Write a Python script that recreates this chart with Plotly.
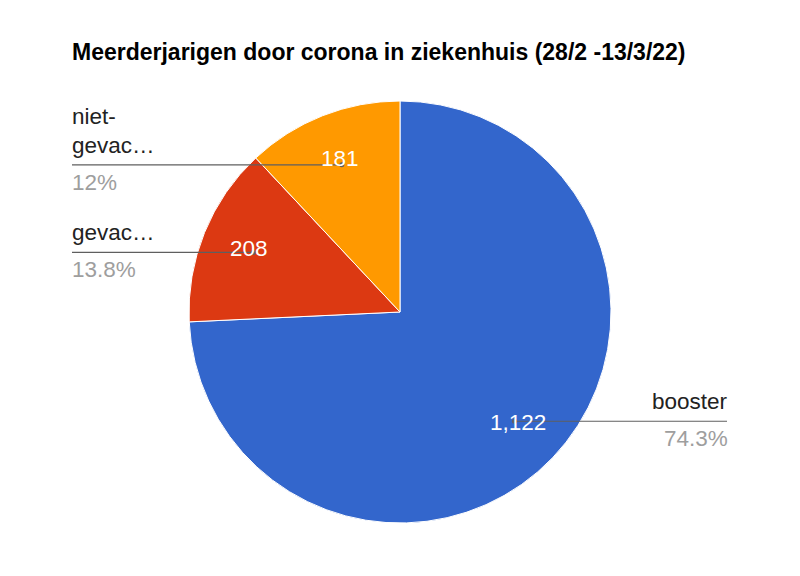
import math
import plotly.graph_objects as go

# data
categories = ["booster", "gevaccineerd", "niet-gevaccineerd"]
shown_names = ["booster", "gevac…", "niet-<br>gevac…"]
values = [1122, 208, 181]
colors = ["#3366CC", "#DC3912", "#FF9900"]

OFF = 8                     # the page body margin
W, H = 800 - OFF, 576 - OFF
CX, CY, R = 400, 312, 211   # pie centre and radius in window pixels
LEFT_X, RIGHT_X = 72, 727   # where the outside labels line up
FONT = "Arial, Liberation Sans, sans-serif"


def px(x):
    return (x - OFF) / W


def py(y):
    return 1 - (y - OFF) / H


def pct_text(v, total):
    s = "%.1f" % (100.0 * v / total)
    if s.endswith(".0"):
        s = s[:-2]
    return s + "%"


fig = go.Figure()
fig.add_trace(go.Pie(
    labels=categories,
    values=values,
    sort=False,
    direction="clockwise",
    rotation=0,
    marker=dict(colors=colors, line=dict(color="white", width=1)),
    textinfo="none",
    hoverinfo="label+value+percent",
    showlegend=False,
    domain=dict(x=[px(CX - R), px(CX + R)], y=[py(CY + R), py(CY - R)]),
))

total = sum(values)
cum = 0
shapes = []
annotations = []
for name, v in zip(shown_names, values):
    mid = (cum + v / 2.0) / total * 2 * math.pi
    cum += v
    sx, cy = math.sin(mid), math.cos(mid)
    # leader line anchor
    ax = CX + 0.75 * R * sx
    ay = CY - 0.75 * R * cy
    # value inside the slice
    tx = CX + 0.77 * R * sx
    ty = CY - 0.77 * R * cy
    annotations.append(dict(
        x=px(tx), y=py(ty), xref="paper", yref="paper",
        text="{:,}".format(v), showarrow=False,
        font=dict(family=FONT, size=22.5, color="white"),
        xanchor="center", yanchor="middle", yshift=2,
    ))
    if sx < 0:
        lx, align, xs = LEFT_X, "left", -2
        x0, x1 = LEFT_X, ax
    else:
        lx, align, xs = RIGHT_X, "right", 3
        x0, x1 = ax, RIGHT_X
    shapes.append(dict(
        type="line", xref="paper", yref="paper",
        x0=px(x0), x1=px(x1), y0=py(ay), y1=py(ay),
        line=dict(color="#5f5f5f", width=1.2),
    ))
    shapes.append(dict(
        type="circle", xref="paper", yref="paper",
        x0=px(ax - 2.5), x1=px(ax + 2.5), y0=py(ay + 2.5), y1=py(ay - 2.5),
        fillcolor="#5f5f5f", line=dict(width=0),
    ))
    annotations.append(dict(
        x=px(lx), y=py(ay), xref="paper", yref="paper",
        text=name, showarrow=False, align=align,
        font=dict(family=FONT, size=22.5, color="#222222"),
        xanchor=align, yanchor="bottom", xshift=xs, yshift=5,
    ))
    annotations.append(dict(
        x=px(lx), y=py(ay), xref="paper", yref="paper",
        text=pct_text(v, total), showarrow=False, align=align,
        font=dict(family=FONT, size=22.5, color="#9E9E9E"),
        xanchor=align, yanchor="top", xshift=xs, yshift=-3,
    ))

fig.update_layout(
    width=W, height=H,
    margin=dict(l=0, r=0, t=0, b=0),
    paper_bgcolor="white",
    plot_bgcolor="white",
    title=dict(
        text="<b>Meerderjarigen door corona in ziekenhuis (28/2 -13/3/22)</b>",
        x=px(72), xanchor="left", xref="paper",
        y=py(52), yanchor="middle", yref="paper",
        font=dict(family=FONT, size=23, color="#000000"),
    ),
    shapes=shapes,
    annotations=annotations,
)

fig.write_html("out.html")
